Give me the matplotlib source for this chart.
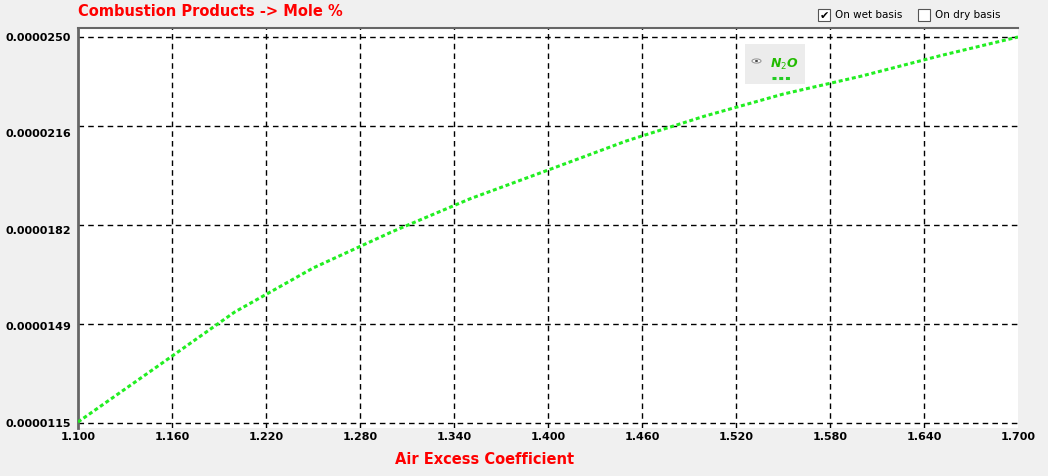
import matplotlib
matplotlib.use("Agg")
import matplotlib.pyplot as plt
from matplotlib.patches import Rectangle, Circle

# Data
air_excess = [1.10, 1.15, 1.20, 1.25, 1.30, 1.35, 1.40, 1.45, 1.50, 1.55, 1.60, 1.65, 1.70]
n2o_mole = [11.52e-6, 13.44e-6, 15.37e-6, 16.91e-6, 18.17e-6, 19.33e-6, 20.34e-6,
            21.36e-6, 22.23e-6, 23.00e-6, 23.63e-6, 24.34e-6, 25.00e-6]
x_ticks = [1.10, 1.16, 1.22, 1.28, 1.34, 1.40, 1.46, 1.52, 1.58, 1.64, 1.70]
x_tick_labels = ["1.100", "1.160", "1.220", "1.280", "1.340", "1.400", "1.460",
                 "1.520", "1.580", "1.640", "1.700"]
y_ticks = [11.5e-6, 14.875e-6, 18.25e-6, 21.625e-6, 25.0e-6]
y_tick_labels = ["0.0000115", "0.0000149", "0.0000182", "0.0000216", "0.0000250"]

# Layout: horizontal grid rows as drawn by the original widget (axes fraction)
hgrid_fracs = [0.0125, 0.26, 0.5075, 0.755, 0.9775]

W, H = 1048, 476
fig = plt.figure(figsize=(W / 100, H / 100), dpi=100, facecolor="#f0f0f0")
L, R, T, B = 78, 1018, 28, 428
ax = fig.add_axes([L / W, (H - B) / H, (R - L) / W, (B - T) / H])
ax.set_facecolor("white")

ax.plot(air_excess, n2o_mole, color="#22ee22", lw=2.2, linestyle=(0, (1.3, 0.9)),
        solid_capstyle="butt", zorder=3)

ax.set_xlim(1.10, 1.70)
ax.set_ylim(11.31e-6, 25.315e-6)

for xv in x_ticks[1:-1]:
    ax.axvline(xv, color="black", lw=1, linestyle=(0, (4, 3)), zorder=1)
for fy in hgrid_fracs:
    ax.plot([0, 1], [fy, fy], transform=ax.transAxes, color="black", lw=1,
            linestyle=(0, (4, 3)), zorder=1)

ax.set_xticks(x_ticks)
ax.set_xticklabels(x_tick_labels, fontsize=8, fontweight="bold")
ax.set_yticks(y_ticks)
ax.set_yticklabels(y_tick_labels, fontsize=8, fontweight="bold")
ax.tick_params(length=0)
ax.tick_params(axis="x", pad=3)
ax.tick_params(axis="y", pad=5)

for s in ["right", "bottom"]:
    ax.spines[s].set_visible(False)
ax.spines["left"].set_color("#666666")
ax.spines["left"].set_linewidth(2)
ax.spines["top"].set_color("#666666")
ax.spines["top"].set_linewidth(1.5)

# Title and axis label
fig.text(78 / W, 1 - 12 / H, "Combustion Products -> Mole %", color="#ff0000",
         fontsize=10.5, fontweight="bold", ha="left", va="center")
fig.text(485 / W, 1 - 460 / H, "Air Excess Coefficient", color="#ff0000",
         fontsize=10.5, fontweight="bold", ha="center", va="center")

# Checkboxes
def checkbox(x, y, checked, label):
    fig.patches.append(Rectangle((x / W, 1 - (y + 6) / H), 12 / W, 12 / H,
                                 transform=fig.transFigure, facecolor="white",
                                 edgecolor="#555555", lw=0.8))
    if checked:
        fig.text((x + 6) / W, 1 - (y + 0.5) / H, "✔", fontsize=8, ha="center",
                 va="center", color="black")
    fig.text((x + 17) / W, 1 - y / H, label, fontsize=7.5, ha="left", va="center",
             color="black")

checkbox(818, 15, True, "On wet basis")
checkbox(918, 15, False, "On dry basis")

# Legend box
fig.patches.append(Rectangle((745 / W, 1 - 84 / H), 60 / W, 40 / H,
                             transform=fig.transFigure, facecolor="#ececec",
                             edgecolor="none", zorder=5))
fig.patches.append(Circle((756.5 / W, 1 - 61 / H), 4.5 / W,
                          transform=fig.transFigure, facecolor="white",
                          edgecolor="#999999", lw=0.8, zorder=6))
fig.patches.append(Circle((756.5 / W, 1 - 61 / H), 1.6 / W,
                          transform=fig.transFigure, facecolor="black",
                          edgecolor="none", zorder=7))
fig.text(770 / W, 1 - 64 / H, "N$_2$O", color="#22bb00", fontsize=9,
         fontweight="bold", style="italic", ha="left", va="center", zorder=7)
fig.lines.append(plt.Line2D([772 / W, 790 / W], [1 - 78 / H, 1 - 78 / H],
                            transform=fig.transFigure, color="#22cc22", lw=2.2,
                            linestyle=(0, (1.3, 0.9)), zorder=7))

fig.savefig("out.png", dpi=100, facecolor=fig.get_facecolor())
